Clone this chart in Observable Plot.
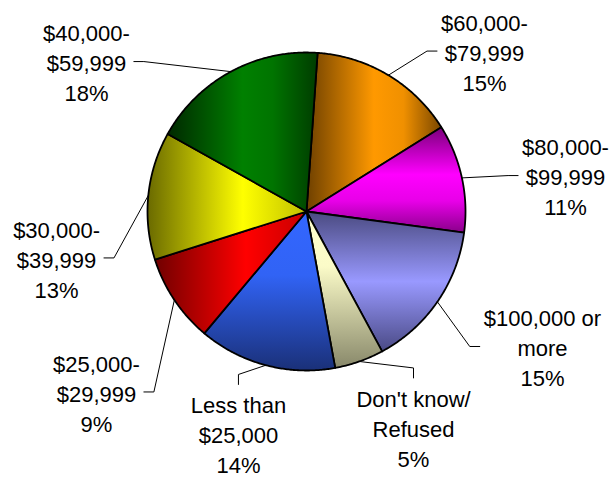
<!DOCTYPE html>
<html>
<head>
<meta charset="utf-8">
<script src="https://cdn.jsdelivr.net/npm/d3@7"></script>
<script src="https://cdn.jsdelivr.net/npm/@observablehq/plot@0.6"></script>
<style>
  html, body { margin: 0; padding: 0; background: #fff; }
  #chart svg { display: block; }
</style>
</head>
<body>
<div id="chart"></div>
<script>
// ---- data ----
const categories = ["$60,000-\n$79,999", "$80,000-\n$99,999", "$100,000 or\nmore", "Don't know/\nRefused",
                    "Less than\n$25,000", "$25,000-\n$29,999", "$30,000-\n$39,999", "$40,000-\n$59,999"];
const shares = [15, 11, 15, 5, 14, 9, 13, 18];

// ---- styles ----
const shading = [
  {dir: "h", stops: [[0, "#6e4000"], [0.5, "#ff9900"], [0.72, "#f09000"], [1, "#7a4700"]]}, // orange
  {dir: "v", stops: [[0, "#7a007a"], [0.45, "#ff00ff"], [0.7, "#e800e8"], [1, "#8a008a"]]}, // magenta
  {dir: "v", stops: [[0, "#4a4a80"], [0.5, "#9999ff"], [1, "#4a4a85"]]},                    // lavender
  {dir: "v", stops: [[0, "#ffffcc"], [0.35, "#fbfbc8"], [1, "#88886a"]]},                   // cream
  {dir: "v", stops: [[0, "#3366ff"], [0.4, "#3163f5"], [1, "#1a3078"]]},                    // blue
  {dir: "h", stops: [[0, "#700000"], [0.6, "#ff0000"], [1, "#c80000"]]},                    // red
  {dir: "h", stops: [[0, "#6a6a00"], [0.6, "#ffff00"], [1, "#c0c000"]]},                    // yellow
  {dir: "h", stops: [[0, "#002800"], [0.5, "#008000"], [0.7, "#007400"], [1, "#003c00"]]}   // green
];

// ---- layout ----
const W = 612, H = 477, R = 159, CX = 306, CY = 211;
const START = 4 * Math.PI / 180;
const FONT = 22, LINE_PX = 30;
// label block centres, in pie-radius units relative to the pie centre (y up)
const labelAt = [[1.119, 1.009], [1.629, 0.226], [1.484, -0.849], [0.673, -1.355],
                 [-0.428, -1.396], [-1.321, -1.135], [-1.572, -0.292], [-1.384, 0.943]];

const arcs = d3.pie().sort(null).value(d => d).startAngle(START).endAngle(START + 2 * Math.PI)(shares);

// slice outlines
const slicePts = [];
arcs.forEach((p, i) => {
  slicePts.push({k: i, x: 0, y: 0});
  const n = Math.max(4, Math.ceil((p.endAngle - p.startAngle) / (Math.PI / 360)));
  for (let j = 0; j <= n; j++) {
    const a = p.startAngle + (p.endAngle - p.startAngle) * j / n;
    slicePts.push({k: i, x: Math.sin(a), y: Math.cos(a)});
  }
});

// labels
const labels = categories.map((c, i) => ({
  k: i, text: `${c}\n${shares[i]}%`, x: labelAt[i][0], y: labelAt[i][1]
}));

// measure text widths
const ctx = document.createElement("canvas").getContext("2d");
ctx.font = `${FONT}px 'Liberation Sans', Arial, sans-serif`;
const toData = (px, py) => ({x: (px - CX) / R, y: (CY - py) / R});

const leaderPts = [];
labels.forEach((l, i) => {
  const m = (arcs[i].startAngle + arcs[i].endAngle) / 2;
  const ex = CX + R * Math.sin(m), ey = CY - R * Math.cos(m);
  const lx = CX + R * l.x, ly = CY - R * l.y;
  const hw = d3.max(l.text.split("\n"), s => ctx.measureText(s).width) / 2;
  let p0, p1;
  if (ey < ly - 45 && ex > lx - hw && ex < lx + hw) {
    p1 = [lx, ly - 49]; p0 = [lx, ly - 59];
  } else if (ex < lx) {
    p1 = [lx - hw - 4, ly]; p0 = [p1[0] - 10, ly];
  } else {
    p1 = [lx + hw + 4, ly]; p0 = [p1[0] + 10, ly];
  }
  [[ex, ey], p0, p1].forEach(([px, py]) => leaderPts.push({k: i, ...toData(px, py)}));
});

const chart = Plot.plot({
  width: W,
  height: H,
  margin: 0,
  x: {axis: null, domain: [-CX / R, (W - CX) / R]},
  y: {axis: null, domain: [-(H - CY) / R, CY / R]},
  color: {type: "identity"},
  style: {background: "white", overflow: "visible"},
  marks: [
    Plot.line(slicePts, {
      x: "x", y: "y", z: "k",
      fill: d => `url(#shade${d.k})`,
      stroke: "black", strokeWidth: 1.8, strokeLinejoin: "round",
      curve: "linear-closed"
    }),
    Plot.line(leaderPts, {x: "x", y: "y", z: "k", stroke: "black", strokeWidth: 1}),
    Plot.text(labels, {
      x: "x", y: "y", text: "text",
      fontSize: FONT, lineHeight: LINE_PX / FONT,
      fontFamily: "'Liberation Sans', Arial, sans-serif",
      fill: "#000"
    })
  ]
});

// gradient definitions
const defs = d3.select(chart).insert("defs", ":first-child");
shading.forEach((s, i) => {
  const g = defs.append("linearGradient").attr("id", `shade${i}`)
    .attr("x1", 0).attr("y1", 0)
    .attr("x2", s.dir === "h" ? 1 : 0).attr("y2", s.dir === "h" ? 0 : 1);
  s.stops.forEach(([o, c]) => g.append("stop").attr("offset", o).attr("stop-color", c));
});

document.getElementById("chart").append(chart);
</script>
</body>
</html>
